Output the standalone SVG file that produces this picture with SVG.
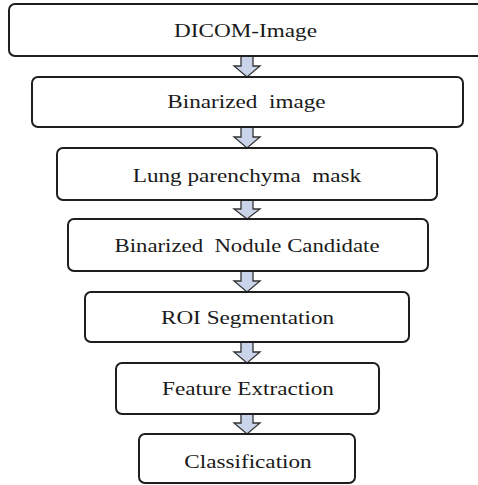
<svg xmlns="http://www.w3.org/2000/svg" width="478" height="485" viewBox="0 0 478 485">
  <style>
    .box { fill: #ffffff; stroke: #1e1e1e; stroke-width: 2; }
    .lbl { font-family: "Liberation Serif", serif; font-size: 19px; fill: #1a1a1a; text-anchor: middle; white-space: pre; }
    .arr { fill: #c9d4ea; stroke: #333333; stroke-width: 1.3; stroke-linejoin: miter; }
  </style>
  <rect width="478" height="485" fill="#ffffff"/>

  <!-- connectors: block arrows between the stages -->
  <g id="connectors">
    <polygon class="arr" points="241,56 253,56 253,66 260,66 247,77 234,66 241,66"/>
    <polygon class="arr" points="241,127 253,127 253,137 260,137 247,148 234,137 241,137"/>
    <polygon class="arr" points="241,200 253,200 253,209 260,209 247,219 234,209 241,209"/>
    <polygon class="arr" points="241,271 253,271 253,281 260,281 247,292 234,281 241,281"/>
    <polygon class="arr" points="241,342 253,342 253,352 260,352 247,363 234,352 241,352"/>
    <polygon class="arr" points="241,414 253,414 253,423 260,423 247,434 234,423 241,423"/>
  </g>

  <!-- stage boxes; labels are widened horizontally around their centre -->
  <g id="node-dicom">
    <rect class="box" x="9" y="4" width="476" height="52" rx="6"/>
    <text class="lbl" x="245.5" y="37" transform="translate(245.5 0) scale(1.22 1) translate(-245.5 0)">DICOM-Image</text>
  </g>
  <g id="node-binarized">
    <rect class="box" x="32" y="77" width="431" height="50" rx="6"/>
    <text class="lbl" x="246.5" y="108" transform="translate(246.5 0) scale(1.22 1) translate(-246.5 0)">Binarized  image</text>
  </g>
  <g id="node-lung-mask">
    <rect class="box" x="57" y="148" width="380" height="52" rx="6"/>
    <text class="lbl" x="247" y="182" transform="translate(247 0) scale(1.22 1) translate(-247 0)">Lung parenchyma  mask</text>
  </g>
  <g id="node-nodule-candidate">
    <rect class="box" x="68" y="219" width="360" height="52" rx="6"/>
    <text class="lbl" x="247" y="252" transform="translate(247 0) scale(1.2 1) translate(-247 0)">Binarized  Nodule Candidate</text>
  </g>
  <g id="node-roi">
    <rect class="box" x="85" y="292" width="324" height="50" rx="6"/>
    <text class="lbl" x="247.5" y="324" transform="translate(247.5 0) scale(1.22 1) translate(-247.5 0)">ROI Segmentation</text>
  </g>
  <g id="node-features">
    <rect class="box" x="116" y="363" width="263" height="51" rx="6"/>
    <text class="lbl" x="248" y="395" transform="translate(248 0) scale(1.22 1) translate(-248 0)">Feature Extraction</text>
  </g>
  <g id="node-classification">
    <rect class="box" x="139" y="434" width="216" height="49" rx="6"/>
    <text class="lbl" x="248" y="468" transform="translate(248 0) scale(1.22 1) translate(-248 0)">Classification</text>
  </g>
</svg>
